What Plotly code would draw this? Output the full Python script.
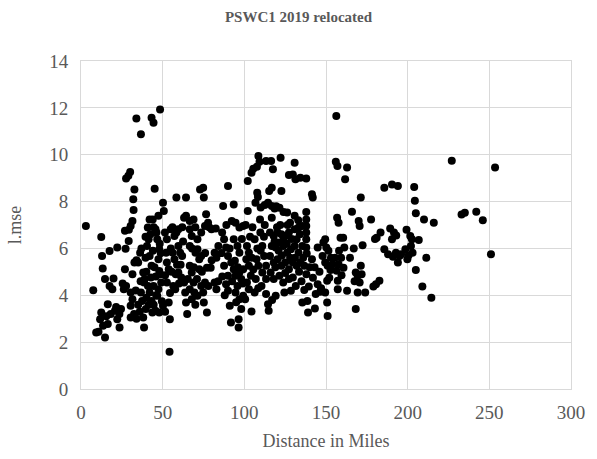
import plotly.graph_objects as go

pts = [
(33.9,11.55),(36.7,10.87),(43.2,11.58),(44.4,11.36),(48.4,11.93),(156.3,11.65),(227,9.74),(253.5,9.45),(251,5.75),(233,7.45),(235,7.52),(242,7.57),(246,7.2),(214.5,3.9),(209,4.37),(211.4,5.6),(205,5.08),(210,7.24),(216,7.1),(206.8,6.36),(204,8.62),(204.4,8.03),(205,7.5),(185.7,8.59),(190.4,8.73),(194,8.66),
(189.3,6.85),(191.6,6.68),(190.4,6.39),(185.7,5.97),(188,5.75),(192.8,5.82),(195,5.68),(194,5.4),(198.6,5.97),(199.3,6.8),(199.8,5.54),(201.6,6.53),(202,6.1),(203,5.82),(202.6,6.39),(183.4,6.68),(181,6.46),(180,6.4),(182.7,4.62),(180.6,4.47),(179,4.37),(196,5.75),(200.5,5.7),(193,6.55),(191,5.65),
(177.6,7.24),(171.3,8.17),(170,7.17),(170.6,6.96),(172.4,6.14),(165.9,7.57),(167,6.0),(164.7,5.6),(168.2,4.97),(169.4,4.83),(170.6,4.55),(171.3,5.26),(171.8,4.9),(168.2,3.41),(169.4,4.12),(174,4.12),(162.9,4.19),(167.5,4.6),
(156,9.7),(157,9.52),(162.9,9.45),(161.7,8.95),(156.8,7.31),(157.7,7.1),(158.9,6.46),(160.5,6.46),(161.2,6.04),(159.3,5.6),(160.7,5.18),(157.7,5.33),(156.5,5.05),(157.2,4.62),(157.2,4.26),(159.5,4.85),(155.5,5.6),(158,5.9),
(151,3.12),(150.7,3.69),(149.5,4.12),(146.5,4.15),(143.7,4.05),(143.2,3.44),(139,3.27),(138.6,3.76),(135.5,3.69),(136.7,4.23),(139.5,4.37),(144.9,4.47),(149.5,6.39),(148.4,6.25),(150.2,6.04),(144.9,6.04),(141.4,5.54),(147.9,5.68),(149.5,5.4),(151,5.26),(152.8,5.08),(154,5.33),(150.7,4.62),(152,4.75),(146,5.0),(143,5.2),(141.4,8.31),(141.9,8.17),(137.9,8.99),(137.9,7.55),(137.9,7.24),(137.9,6.96),(137.9,6.68),(137.9,6.39),(137.9,6.04),(138.2,5.78),(140,5.2),(138,4.9),(142,4.75),(147,4.3),(153,5.6),(151.5,5.9),
(130.8,9.66),(129.7,9.16),(127.3,9.13),(131.3,8.95),(134.3,9.02),(122.2,9.87),(122.7,8.45),(130.8,7.39),(126.2,7.53),(116.8,8.59),(113.3,9.73),(116.4,9.73),(117.5,9.38),(108.6,9.94),(109.3,9.7),(107.7,9.49),(104.4,9.23),(105.5,9.4),(102.1,8.88),(107.9,8.38),(108.3,8.2),(106.8,7.95),(115.2,8.45),(114.5,7.95),(102.1,7.6),(110,7.75),(112.5,7.85),(118.5,7.7),(121.5,7.74),(124,7.55),(133,7.2),(128,7.1),(109.6,7.24),(119.5,7.8),
(90,8.66),(87,7.81),(93.5,7.88),(74.8,8.59),(72.9,8.52),(75.2,8.17),(76.6,7.46),(64.3,8.17),(58.4,8.17),
(32.7,8.52),(32,8.1),(32.2,7.64),(30.1,9.26),(29,9.1),(27.6,8.98),(26.9,6.75),(31.5,7.17),(30.4,6.96),(29.3,6.8),(45.1,8.55),(50.2,7.95),(50.7,7.6),(47.4,7.39),
(3,6.96),(7.5,4.22),(12.4,6.49),(12.9,5.68),(13.3,5.14),(14.7,4.69),(19.9,4.72),(17.5,5.89),(22.2,6.04),(17.5,4.4),(19.2,4.26),(16.4,3.62),(12.4,3.27),(11.7,2.98),(9.3,2.41),(10.7,2.44),(14.7,2.2),(13.5,2.7),(16.4,2.77),(18.2,3.2),(20.8,3.34),(22.2,2.98),(23.6,2.63),(24.5,3.41),(23.5,3.2),(26.2,4.26),(27.6,4.4),(26.9,5.11),(27.3,5.99),(29.2,6.32),(30.4,3.55),(30.4,3.05),(32.5,3.2),(31.5,3.83),(30.4,4.12),(31.5,4.9),(32.7,5.4),(34,5.5),(33.5,4.2),(35,3.6),(34,3.0),(15.5,3.1),(21.5,3.5),(25.5,4.5),
(35,5.4),(36.2,5.82),(37,6.0),(38.1,4.97),(38.6,4.55),(36.7,4.12),(37.4,3.76),(36,3.3),(39.7,3.41),(38.6,2.63),(38.1,3.05),(40.4,6.1),(40.9,6.89),(42,7.24),(41.4,6.39),(42,5.68),(43.2,5.26),(42.8,4.76),(44.4,4.4),(42,4.12),(43.2,3.76),(43.7,3.27),(45.6,3.34),(46.7,3.98),(45.6,6.82),(46.2,6.68),(46.7,6.39),(47.9,5.97),(48.8,5.8),(47.4,5.54),(47.9,5.04),(49.1,4.55),(47.4,4.26),(47.9,3.27),(50.2,3.55),(49.5,3.75),(43.9,7.24),(44.5,6.9),(39.5,5.6),(40,5.0),(41,4.4),(40,3.9),(39,4.7),(45,5.2),(45.8,4.8),(44,5.9),(46,4.0),(48.5,4.9),(39.5,6.5),(36.5,4.6),(41.5,3.6),(44.5,3.6),(48.2,6.2),(42.5,6.6),
(51.4,6.68),(52.6,6.39),(52.1,5.82),(52.6,5.4),(53.7,5.11),(52.6,4.55),(51.5,4.85),(53.7,3.69),(54.4,2.98),(54.2,1.59),(56.1,5.82),(57.2,5.54),(54.9,6.82),(56,6.9),(58.4,6.68),(59.6,6.82),(57.2,6.53),(59.6,6.1),(60.7,5.82),(61.9,5.68),(61,5.3),(59.6,4.97),(61.4,4.76),(57.7,4.26),(58,4.9),(63.1,4.55),(63.8,4.12),(64.3,3.69),(65,3.2),(62,6.9),(63.1,7.31),(64.3,7.39),(55.5,5.0),(56.5,4.4),(54.5,4.1),(51.5,3.3),(60,4.5),(62.5,6.3),(55,6.0),(58.8,5.3),
(66.6,7.17),(68.9,7.24),(66.6,6.82),(67.8,6.53),(66.6,6.1),(68,6.0),(70.1,5.82),(71.3,5.97),(72.4,5.54),(73.6,5.68),(66.6,5.26),(67.8,4.97),(65.4,4.69),(68.9,4.55),(66.6,4.26),(69.4,4.12),(67.8,3.83),(71.3,3.98),(73.6,4.4),(74.8,4.12),(75.2,3.69),(77.1,3.27),(75.9,4.55),(72.4,5.11),(77.1,5.18),(79.4,5.18),(75.9,6.96),(77.8,7.1),(78.5,6.9),(79.9,6.82),(82.5,6.85),(81.8,5.82),(82.9,5.6),(84.1,6.1),(81.8,4.55),(82.9,4.26),(84,4.6),(80,5.5),(73.6,6.68),(71.3,6.39),(70,6.9),(69,5.2),(71,4.7),(74,5.0),(76,5.8),(78,4.4),(70,3.6),
(86.4,6.68),(87.6,6.39),(88.8,6.04),(90,5.68),(87.6,5.26),(90,4.83),(88.8,4.47),(90,4.19),(91.1,3.55),(91.8,2.84),(92.3,7.17),(94.6,7.1),(97,6.89),(99.3,6.96),(93.5,6.39),(95.8,6.1),(97,5.82),(94.2,5.47),(93.5,5.11),(94.6,4.83),(97,4.97),(98.1,4.69),(95.8,4.4),(94.6,4.12),(97,3.83),(98.1,3.41),(96.5,2.98),(96.5,2.63),(99.3,3.98),(99.3,5.11),(91,6.0),(92,5.4),(86,5.8),(89,7.0),(98.5,6.4),(96,5.2),(92.5,4.6),(86.5,4.8),(99,4.5),(95,3.7),(88,4.0),
(101.6,6.1),(102.8,5.82),(101.2,5.54),(102.8,5.26),(104,4.83),(101.6,4.55),(102.8,4.26),(100.5,3.83),(104.4,3.31),(106.3,4.12),(108.6,5.26),(107.5,5.54),(106.3,6.39),(109.8,6.68),(111,6.1),(112.1,5.68),(113.3,5.26),(111,4.97),(113.3,4.69),(110.5,4.4),(113.3,4.05),(114.5,3.62),(114.9,3.34),(105,6.9),(103.5,6.5),(108,6.0),(105.5,5.1),(107,4.7),(110,5.9),(112,6.5),(104.5,5.6),(108.5,4.3),(112.5,7.0),(100.8,7.0),
(115.7,6.68),(118,6.53),(120.3,6.68),(122.7,6.6),(125,6.53),(127.3,6.68),(116.8,6.1),(119.2,6.04),(121.5,6.25),(123.8,6.1),(126.2,5.82),(128.5,5.97),(130.8,6.1),(133.2,5.82),(135.5,6.1),(115.7,5.68),(118,5.4),(120.3,5.54),(122.7,5.26),(125,5.4),(127.3,5.11),(129.7,5.4),(132,5.26),(134.3,5.4),(136.7,5.26),(116.1,4.97),(118,4.69),(121.5,4.83),(123.8,4.55),(127.3,4.69),(129.7,4.76),(124.5,4.12),(128.5,4.19),(119.2,3.98),(116.8,7.31),(130.8,6.82),(133.2,6.89),(135.5,6.96),(132,6.39),(116.8,7.81),(117,3.8),(120,6.9),(124,6.35),(126,6.2),(129,6.4),(131,5.6),(133.5,5.0),(135,4.6),(121,5.9),(125,4.95),(131.5,4.4),(134,6.6),(119,5.2),(123,5.7),(128,5.6),(136,5.6),(118.5,6.3),(122,7.0),(126.5,7.0),
]

distance = [p[0] for p in pts]
lmse = [p[1] for p in pts]

x_ticks = [0, 50, 100, 150, 200, 250, 300]
y_ticks = [0, 2, 4, 6, 8, 10, 12, 14]

FONT = "Liberation Serif"
GRAY = "#595959"

fig = go.Figure()
fig.add_trace(go.Scatter(
    x=distance, y=lmse, mode="markers",
    marker=dict(color="black", size=8, line=dict(width=0)),
    showlegend=False, hoverinfo="skip",
))

fig.update_layout(
    width=597, height=459,
    margin=dict(l=81, r=26, t=61, b=70),
    paper_bgcolor="white", plot_bgcolor="white",
    title=dict(text="<b>PSWC1 2019 relocated</b>", x=0.5, xanchor="center",
               y=1 - 17/459, yanchor="middle",
               font=dict(family=FONT, size=15, color=GRAY)),
    font=dict(family=FONT, color=GRAY),
)
fig.update_xaxes(
    range=[0, 300], tickvals=x_ticks, ticktext=[str(v) for v in x_ticks],
    showgrid=True, gridcolor="#d9d9d9", gridwidth=1,
    showline=True, linecolor="#d9d9d9", linewidth=1, mirror=True,
    zeroline=False, ticks="", tickfont=dict(family=FONT, size=19, color=GRAY),
    ticklabelstandoff=6,
    title=dict(text="Distance in Miles", font=dict(family=FONT, size=18, color=GRAY), standoff=12),
)
fig.update_yaxes(
    range=[0, 14], tickvals=y_ticks, ticktext=[str(v) for v in y_ticks],
    showgrid=True, gridcolor="#d9d9d9", gridwidth=1,
    showline=True, linecolor="#d9d9d9", linewidth=1, mirror=True,
    zeroline=False, ticks="", tickfont=dict(family=FONT, size=19, color=GRAY),
    ticklabelstandoff=8,
    title=dict(text="l.mse", font=dict(family=FONT, size=18, color=GRAY), standoff=22),
)

fig.write_html("out.html")
